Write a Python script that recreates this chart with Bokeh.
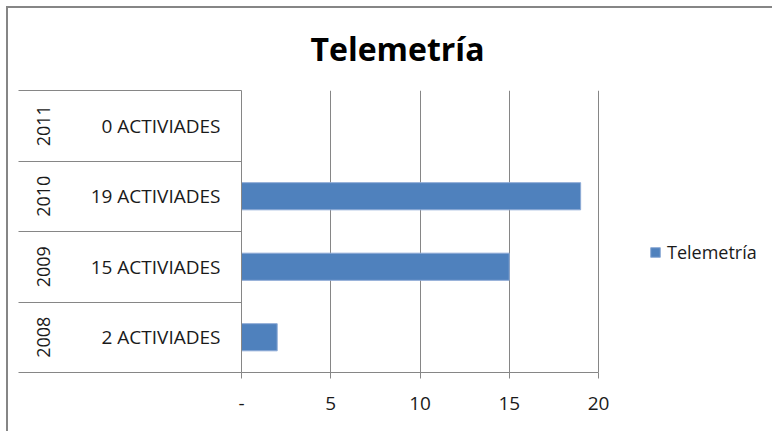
from bokeh.plotting import figure
from bokeh.models import (ColumnDataSource, Range1d, LinearAxis, FixedTicker,
                          Legend, LegendItem, Grid)
from bokeh.embed import file_html
from bokeh.resources import INLINE

# ---- data ----
title_text = "Telemetría"
series_name = "Telemetría"
years = ["2008", "2009", "2010", "2011"]
activities = [2, 15, 19, 0]
activity_labels = ["2 ACTIVIADES", "15 ACTIVIADES", "19 ACTIVIADES", "0 ACTIVIADES"]
x_ticks = [0, 5, 10, 15, 20]
x_tick_labels = ["-", "5", "10", "15", "20"]

FONT = "Open Sans"
GRAY = "#868686"
TXT = "#1a1a1a"
BLUE = "#4F81BD"

centers = [i + 0.5 for i in range(len(years))]
bounds = [float(i) for i in range(len(years) + 1)]
x_max = x_ticks[-1]

source = ColumnDataSource(dict(y=centers, value=activities, year=years, label=activity_labels))

OFF = 8  # chart border offset (margin + border width)
PLOT_LEFT, PLOT_RIGHT = 241, 598          # page pixels of value 0 and value 20
x_end = x_max * (774 - PLOT_LEFT) / (PLOT_RIGHT - PLOT_LEFT)   # frame extends to make room for legend

p = figure(width=774 - OFF, height=433 - OFF, output_backend="svg", toolbar_location=None,
           x_range=Range1d(0, x_end), y_range=Range1d(0, len(years)),
           x_axis_type=None, y_axis_type=None,
           min_border_left=PLOT_LEFT - OFF, min_border_right=0,
           min_border_top=90 - OFF, min_border_bottom=61)
p.margin = (6, 0, 0, 6)
p.styles = {"border-left": "2px solid #868686", "border-top": "2px solid #868686"}
p.outline_line_color = None
p.background_fill_color = "white"
p.border_fill_color = "white"

r = p.hbar(y="y", left=0, right="value", height=0.385, source=source,
           fill_color=BLUE, line_color="#8DAAD6", line_width=1)

# title
p.title.text = title_text
p.title.align = "left"
p.title.offset = 69
p.title.vertical_align = "top"
p.title.text_font = FONT
p.title.text_font_style = "bold"
p.title.text_font_size = "32px"
p.title.text_color = "#000000"
p.title.standoff = 37

# x axis
xax = LinearAxis(ticker=FixedTicker(ticks=x_ticks, minor_ticks=[]), bounds=(0, x_max))
xax.major_label_overrides = {t: l for t, l in zip(x_ticks, x_tick_labels)}
xax.axis_line_color = GRAY
xax.major_tick_line_color = GRAY
xax.major_tick_in = 0
xax.major_tick_out = 6
xax.major_label_standoff = 18
xax.major_label_text_font = FONT
xax.major_label_text_font_size = "19px"
xax.major_label_text_color = TXT
p.add_layout(xax, "below")

# inner y axis: activity labels + table separators (minor ticks at row boundaries)
TABLE_W = 223
yax = LinearAxis(ticker=FixedTicker(ticks=centers, minor_ticks=bounds))
yax.major_label_overrides = {c: l for c, l in zip(centers, activity_labels)}
yax.axis_line_color = GRAY
yax.major_tick_in = 0
yax.major_tick_out = 0
yax.minor_tick_in = 0
yax.minor_tick_out = TABLE_W
yax.minor_tick_line_color = GRAY
yax.major_label_standoff = 21 - TABLE_W
yax.major_label_text_font = FONT
yax.major_label_text_font_size = "19px"
yax.major_label_text_color = TXT
p.add_layout(yax, "left")

# outer y axis: years, rotated
yax2 = LinearAxis(ticker=FixedTicker(ticks=centers, minor_ticks=[]))
yax2.major_label_overrides = {c: y for c, y in zip(centers, years)}
yax2.major_label_orientation = "vertical"
yax2.axis_line_color = None
yax2.major_tick_line_color = None
yax2.minor_tick_line_color = None
yax2.major_tick_in = 0
yax2.major_tick_out = 0
yax2.major_label_standoff = 38
yax2.major_label_text_font = FONT
yax2.major_label_text_font_size = "18px"
yax2.major_label_text_color = TXT
p.add_layout(yax2, "left")

# vertical gridlines (only over the value area 5..20)
p.xgrid.visible = False
p.ygrid.visible = False
g = Grid(dimension=0, ticker=FixedTicker(ticks=x_ticks[1:]), grid_line_color=GRAY, grid_line_width=1)
p.add_layout(g)

# legend (right of the value area)
legend = Legend(items=[LegendItem(label=series_name, renderers=[r])], location=(408, 108))
legend.border_line_color = None
legend.background_fill_alpha = 0
legend.padding = 0
legend.margin = 0
legend.glyph_width = 12
legend.glyph_height = 12
legend.label_standoff = 6
legend.label_text_font = FONT
legend.label_text_font_size = "18px"
legend.label_text_color = TXT
p.add_layout(legend, "center")

open("out.html", "w").write(file_html(p, INLINE))
